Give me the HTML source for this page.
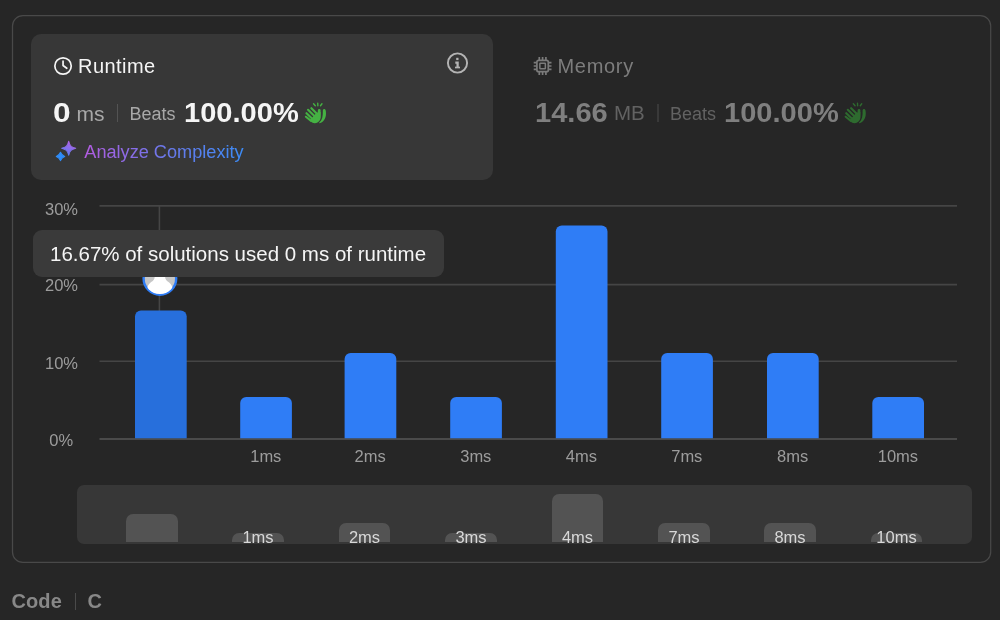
<!DOCTYPE html>
<html><head><meta charset="utf-8">
<style>
*{box-sizing:border-box;margin:0;padding:0}
html,body{width:1000px;height:620px;background:#262626;overflow:hidden;font-family:"Liberation Sans",sans-serif;}
body{position:relative}
.abs{position:absolute}
#outer{left:12px;top:15px;width:979px;height:548px;border:1px solid #464646;border-radius:10px}
#rt{left:31px;top:34px;width:461.700px;height:146.300px;background:#373737;border-radius:10px}
.t{position:absolute;white-space:nowrap;line-height:1;transform-origin:0 50%}
.big{font-size:27.500px;font-weight:bold;transform:scaleX(1.057)}
#tip{left:32.500px;top:229.800px;width:411.500px;height:47px;background:#3a3a3a;border-radius:9px}
#mini{left:76.500px;top:485px;width:895.500px;height:58.500px;background:#373737;border-radius:7px;overflow:hidden}
.mb{position:absolute;background:#535353;width:51.500px;border-radius:7px 7px 0 0;bottom:1.500px}
.ml{position:absolute;font-size:16.500px;color:#d8d8d8;width:80px;text-align:center;top:43.500px;line-height:1}
.yl{position:absolute;font-size:16.500px;color:#9c9c9c;width:50px;text-align:right;line-height:1;left:28px}
.xl{position:absolute;font-size:16.500px;color:#9c9c9c;width:80px;text-align:center;line-height:1;top:448px}
#c1{color:#45b243}#c2{color:#2e6b2f}
</style></head><body>
<svg class="abs" style="left:0;top:0" width="1000" height="620"><rect x="12.500" y="15.500" width="978.200" height="546.900" rx="10.500" fill="none" stroke="#494949" stroke-width="1.250"/></svg>
<div id="rt" class="abs"></div>

<!-- Runtime header -->
<svg class="abs" style="left:53px;top:56px" width="20" height="20" viewBox="0 0 20 20" fill="none" stroke="#f5f5f5" stroke-width="1.700" stroke-linecap="round" stroke-linejoin="round"><circle cx="10.050" cy="10" r="8.200"/><path d="M10.050 5.200V9.500L13.800 12.300"/></svg>
<div class="t" style="left:78px;top:56px;font-size:20px;color:#f5f5f5;letter-spacing:0.450px">Runtime</div>
<svg class="abs" style="left:446px;top:51px" width="24" height="24" viewBox="0 0 24 24" fill="none" stroke="#b4b4b4" stroke-width="1.900"><circle cx="11.500" cy="12" r="9.600"/><path d="M9.300 11.700H11.600V17" stroke-width="2.300"/><path d="M9 16.500H14" stroke-width="1.700"/><rect x="10.200" y="6.800" width="2.300" height="2.300" fill="#b4b4b4" stroke="none"/></svg>

<div class="t" style="left:53px;top:99px;font-size:27.500px;font-weight:bold;color:#f5f5f5;transform:scaleX(1.150)">0</div>
<div class="t" style="left:76.500px;top:103px;font-size:21px;color:#a8a8a8">ms</div>
<div class="abs" style="left:116.500px;top:104px;width:1.500px;height:18px;background:#535353"></div>
<div class="t" style="left:129.500px;top:105px;font-size:18px;color:#a8a8a8">Beats</div>
<div class="t big" style="left:183.500px;top:99px;color:#f5f5f5">100.00%</div>
<svg class="abs" id="c1" style="left:298px;top:94px" width="40" height="36" viewBox="0 0 689 620"><g><g fill="none" stroke="currentColor" stroke-linecap="round"><path d="M230 245L335 350M173 272L295 392M146 330L255 436M136 392L225 462" stroke-width="36"/><path d="M366 282L364 400" stroke-width="48"/><path d="M268 168L298 203M340 158L342 203M413 168L387 203" stroke-width="24"/></g><path fill="currentColor" d="M205 452L318 322L390 310L389 400C392 440 360 500 290 503C250 503 230 485 205 452Z"/><path fill="currentColor" d="M428 285C428 265 445 255 458 260C478 268 482 290 482 340C482 420 440 485 372 503C360 503 362 495 372 488C415 450 432 380 428 285Z"/></g></svg>

<!-- Analyze -->
<svg class="abs" style="left:48px;top:132px" width="40" height="36" viewBox="0 0 40 36"><defs><linearGradient id="g1" gradientUnits="userSpaceOnUse" x1="3" y1="-7" x2="-3" y2="7"><stop offset="0" stop-color="#b860e6"/><stop offset="1" stop-color="#5a7ef2"/></linearGradient></defs><g stroke-linejoin="round" stroke-width="1.100"><path transform="translate(20.700 16.250)" d="M0-7C1-2.600 2.600-1 7 0C2.600 1 1 2.600 0 7C-1 2.600-2.600 1-7 0C-2.600-1-1-2.600 0-7Z" fill="url(#g1)" stroke="url(#g1)"/><path transform="translate(12.500 24.450)" d="M0-4.200C.9-1.900 1.900-.9 4.200 0C1.900 .9 .9 1.900 0 4.200C-.9 1.900-1.900 .9-4.200 0C-1.900-.9-.9-1.900 0-4.200Z" fill="#2f8cf8" stroke="#2f8cf8"/></g></svg>
<svg class="abs" style="left:80px;top:136px" width="180" height="30"><defs><linearGradient id="g2" x1="0" y1="0" x2="1" y2="0"><stop offset="0" stop-color="#b35be0"/><stop offset="0.500" stop-color="#6b78ea"/><stop offset="1" stop-color="#3b8bf5"/></linearGradient></defs><text x="4.300" y="21.500" font-size="18.150" letter-spacing="0" font-family="Liberation Sans, sans-serif" fill="url(#g2)">Analyze Complexity</text></svg>

<!-- Memory -->
<svg class="abs" style="left:523px;top:48px" width="40" height="36" viewBox="0 0 40 36" fill="none" stroke="#7b7b7b" stroke-width="1.700"><rect x="13.900" y="12.300" width="11.400" height="11.400" rx="1.800"/><rect x="16.850" y="15.250" width="5.500" height="5.500" rx="0.500" stroke-width="1.500"/><path d="M16.300 9V12M19.600 9V12M22.900 9V12M16.300 24V27M19.600 24V27M22.900 24V27M10.700 14.700H13.700M10.700 18H13.700M10.700 21.300H13.700M25.500 14.700H28.500M25.500 18H28.500M25.500 21.300H28.500"/></svg>
<div class="t" style="left:557.500px;top:56px;font-size:20px;color:#7d7d7d;letter-spacing:0.700px">Memory</div>
<div class="t big" style="left:534.500px;top:99px;color:#7f7f7f">14.66</div>
<div class="t" style="left:614px;top:103px;font-size:20.500px;color:#626262">MB</div>
<div class="abs" style="left:657px;top:104px;width:1.500px;height:18px;background:#393939"></div>
<div class="t" style="left:670px;top:105px;font-size:18px;color:#626262">Beats</div>
<div class="t big" style="left:724px;top:99px;color:#7f7f7f">100.00%</div>
<svg class="abs" id="c2" style="left:838px;top:94px" width="40" height="36" viewBox="4 0 689 620"><g><g fill="none" stroke="currentColor" stroke-linecap="round"><path d="M230 245L335 350M173 272L295 392M146 330L255 436M136 392L225 462" stroke-width="36"/><path d="M366 282L364 400" stroke-width="48"/><path d="M268 168L298 203M340 158L342 203M413 168L387 203" stroke-width="24"/></g><path fill="currentColor" d="M205 452L318 322L390 310L389 400C392 440 360 500 290 503C250 503 230 485 205 452Z"/><path fill="currentColor" d="M428 285C428 265 445 255 458 260C478 268 482 290 482 340C482 420 440 485 372 503C360 503 362 495 372 488C415 450 432 380 428 285Z"/></g></svg>

<!-- Chart -->
<svg class="abs" style="left:0;top:190px" width="1000" height="290" viewBox="0 190 1000 290">
<g stroke="#454545" stroke-width="1.600">
<line x1="99.500" x2="957" y1="205.900" y2="205.900"/><line x1="99.500" x2="957" y1="284.600" y2="284.600"/><line x1="99.500" x2="957" y1="361.300" y2="361.300"/>
<line x1="159.400" x2="159.400" y1="206" y2="311"/>
</g>
<line x1="99.500" x2="957" y1="439.100" y2="439.100" stroke="#4a4a4a" stroke-width="2"/>
<g fill="#2f7df6">
<path fill="#276fdc" d="M135.0 438.200V316.6a6 6 0 0 1 6-6h39.7a6 6 0 0 1 6 6V438.200z"/>
<path d="M240.2 438.200V403.0a6 6 0 0 1 6-6h39.7a6 6 0 0 1 6 6V438.200z"/>
<path d="M344.6 438.200V359.0a6 6 0 0 1 6-6h39.7a6 6 0 0 1 6 6V438.200z"/>
<path d="M450.2 438.200V403.0a6 6 0 0 1 6-6h39.7a6 6 0 0 1 6 6V438.200z"/>
<path d="M555.8 438.200V231.6a6 6 0 0 1 6-6h39.7a6 6 0 0 1 6 6V438.200z"/>
<path d="M661.2 438.200V359.0a6 6 0 0 1 6-6h39.7a6 6 0 0 1 6 6V438.200z"/>
<path d="M767.0 438.200V359.0a6 6 0 0 1 6-6h39.7a6 6 0 0 1 6 6V438.200z"/>
<path d="M872.3 438.200V403.0a6 6 0 0 1 6-6h39.7a6 6 0 0 1 6 6V438.200z"/>
</g>
<!-- avatar -->
<g>
<clipPath id="av"><circle cx="159.900" cy="278.500" r="15.500"/></clipPath>
<circle cx="159.900" cy="278.500" r="16.300" fill="#c6c6c6" stroke="#2f7df6" stroke-width="2.400"/>
<g clip-path="url(#av)" fill="#ffffff"><circle cx="159.900" cy="270" r="7"/><path transform="translate(159.900 278.500)" d="M-5.200-4L-5.200-2C-5.200 4-11 2.500-12.500 9L-12.500 17L12.500 17L12.500 9C11 2.500 5.200 4 5.200-2L5.200-4Z"/></g>
</g>
</svg>
<div class="yl" style="top:200.500px">30%</div>
<div class="yl" style="top:277.300px">20%</div>
<div class="yl" style="top:354.500px">10%</div>
<div class="yl" style="top:432px;left:23.200px">0%</div>
<div class="xl" style="left:225.8px">1ms</div>
<div class="xl" style="left:330.2px">2ms</div>
<div class="xl" style="left:435.8px">3ms</div>
<div class="xl" style="left:541.4px">4ms</div>
<div class="xl" style="left:646.8px">7ms</div>
<div class="xl" style="left:752.6px">8ms</div>
<div class="xl" style="left:857.9px">10ms</div>

<div id="tip" class="abs"></div>
<div class="t" style="left:50px;top:243.500px;font-size:20.500px;color:#f5f5f5">16.67% of solutions used 0 ms of runtime</div>

<!-- minimap -->
<div id="mini" class="abs">
<div class="mb" style="left:49.500px;height:28px"></div>
<div class="mb" style="left:155.900px;height:9px"></div>
<div class="mb" style="left:262.300px;height:19px"></div>
<div class="mb" style="left:368.700px;height:9px"></div>
<div class="mb" style="left:475.100px;height:48px"></div>
<div class="mb" style="left:581.500px;height:19px"></div>
<div class="mb" style="left:687.900px;height:19px"></div>
<div class="mb" style="left:794.300px;height:9px"></div>
<div class="ml" style="left:141.500px">1ms</div>
<div class="ml" style="left:248px">2ms</div>
<div class="ml" style="left:354.500px">3ms</div>
<div class="ml" style="left:461px">4ms</div>
<div class="ml" style="left:567.500px">7ms</div>
<div class="ml" style="left:673.500px">8ms</div>
<div class="ml" style="left:780px">10ms</div>
</div>

<!-- footer -->
<div class="t" style="left:11.500px;top:591px;font-size:20px;font-weight:bold;color:#888888;letter-spacing:0.100px">Code</div>
<div class="abs" style="left:75px;top:593px;width:1px;height:17px;background:#4a4a4a"></div>
<div class="t" style="left:87.500px;top:591px;font-size:20px;font-weight:bold;color:#888888">C</div>
</body></html>
